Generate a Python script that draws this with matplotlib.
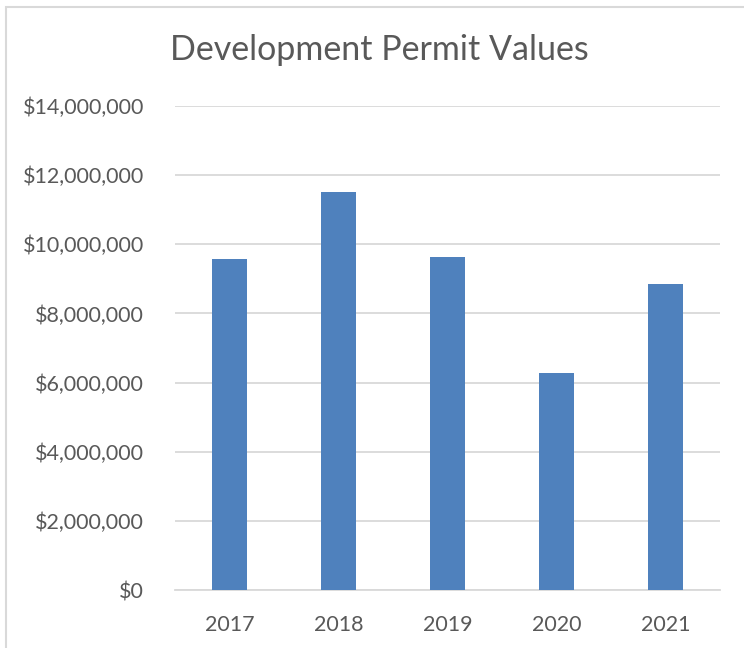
import matplotlib.pyplot as plt
from matplotlib.patches import Rectangle
from matplotlib.ticker import FuncFormatter, MultipleLocator
import numpy as np

years = ['2017', '2018', '2019', '2020', '2021']
permit_values = [9580000, 11520000, 9620000, 6270000, 8840000]

plt.rcParams['font.family'] = ['Lato', 'DejaVu Sans']
text_color = '#595959'

fig = plt.figure(figsize=(7.44, 6.48), dpi=100)
ax = fig.add_axes([0.235, 0.0895, 0.733, 0.7469])

x = np.arange(len(years))
ax.bar(x, permit_values, width=0.32, color='#4f81bd', zorder=3)

ax.set_xlim(-0.5, len(years) - 0.5)
ax.set_ylim(0, 14000000)
ax.yaxis.set_major_locator(MultipleLocator(2000000))
ax.yaxis.set_major_formatter(FuncFormatter(lambda v, p: f'${v:,.0f}'))
ax.set_xticks(x)
ax.set_xticklabels(years)

ax.grid(axis='y', color='#d9d9d9', linewidth=1.3, zorder=0)
for s in ['top', 'right', 'left']:
    ax.spines[s].set_visible(False)
ax.spines['bottom'].set_color('#d9d9d9')
ax.spines['bottom'].set_linewidth(1.3)
ax.tick_params(axis='both', length=0, labelsize=15.5, colors=text_color)
ax.tick_params(axis='y', pad=22)
ax.tick_params(axis='x', pad=18)

fig.text(0.51, 0.923, 'Development Permit Values', ha='center', va='center',
         fontsize=24.5, color=text_color)

# light chart-area border (top and left visible in the reference)
fig.add_artist(Rectangle((0.008, -0.05), 1.1, 1.039, transform=fig.transFigure,
                         fill=False, edgecolor='#d9d9d9', linewidth=1.5))

fig.savefig('out.png', dpi=100)
